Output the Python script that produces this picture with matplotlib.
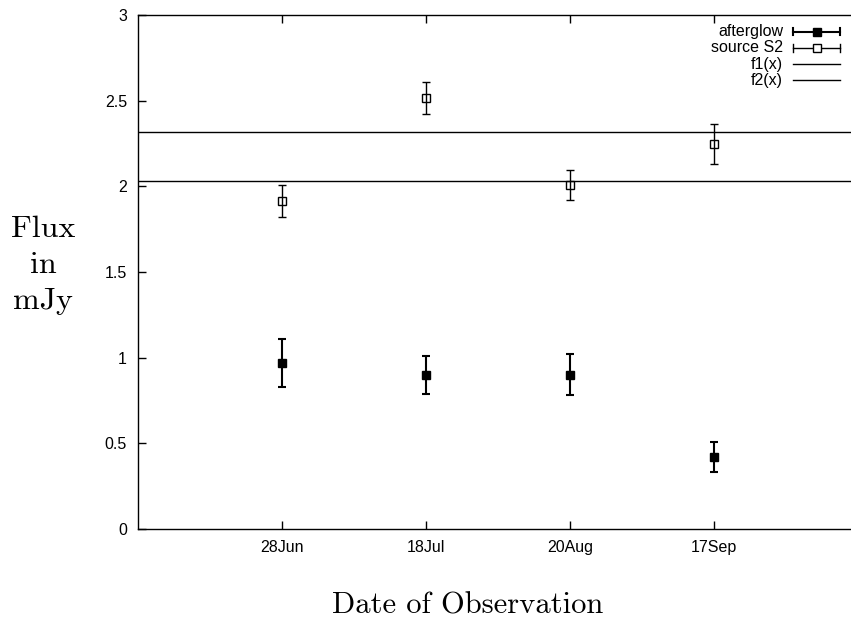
import matplotlib
matplotlib.use('Agg')
import matplotlib.pyplot as plt

dates = ['28Jun', '18Jul', '20Aug', '17Sep']
xpos = [1, 2, 3, 4]
afterglow = [0.97, 0.90, 0.90, 0.42]
afterglow_err = [0.14, 0.11, 0.12, 0.09]
source_s2 = [1.915, 2.515, 2.01, 2.245]
source_s2_err = [0.093, 0.095, 0.087, 0.117]
f1 = 2.315
f2 = 2.03

plt.rcParams['font.family'] = ['Liberation Sans', 'DejaVu Sans']

fig = plt.figure(figsize=(8.51, 6.23), dpi=100)
ax = fig.add_axes([138/851, 94/623, 720/851, 514/623])

ax.axhline(f1, color='black', lw=1)
ax.axhline(f2, color='black', lw=1)
ax.errorbar(xpos, afterglow, yerr=afterglow_err, fmt='s', color='black',
            ms=6, capsize=3, elinewidth=1.5, capthick=1.5)
ax.errorbar(xpos, source_s2, yerr=source_s2_err, fmt='s', color='black',
            mfc='none', ms=6, mew=1, capsize=3, elinewidth=1, capthick=1)

ax.set_xlim(0, 5)
ax.set_ylim(0, 3)
ax.set_xticks(xpos)
ax.set_xticklabels(dates)
ax.set_yticks([0, 0.5, 1, 1.5, 2, 2.5, 3])
ax.set_yticklabels(['0', '0.5', '1', '1.5', '2', '2.5', '3'])
ax.tick_params(direction='in', length=6, width=1, labelsize=11.5, color='black',
               top=True, right=False, pad=8)
ax.spines['right'].set_visible(False)
for s in ax.spines.values():
    s.set_linewidth(1)

# legend, gnuplot style: right-aligned text, sample to the right
tr = ax.transAxes
labels = ['afterglow', 'source S2', 'f1(x)', 'f2(x)']
rows = [31.5, 48, 64, 80]
for lab, yy in zip(labels, rows):
    yf = (529 - yy) / 514
    ax.text((783 - 138) / 720, yf, lab, transform=tr, ha='right', va='center', fontsize=11.5)
y0 = (529 - rows[0]) / 514
y1 = (529 - rows[1]) / 514
xs0, xs1, xm = (793 - 138) / 720, (840 - 138) / 720, (817 - 138) / 720
ax.plot([xs0, xs1], [y0, y0], color='black', lw=1.5, transform=tr, clip_on=False)
ax.plot([xs0, xs0], [y0 - 0.007, y0 + 0.007], color='black', lw=1.5, transform=tr, clip_on=False)
ax.plot([xs1, xs1], [y0 - 0.007, y0 + 0.007], color='black', lw=1.5, transform=tr, clip_on=False)
ax.plot([xm], [y0], 's', color='black', ms=6, transform=tr, clip_on=False)
ax.plot([xs0, xs1], [y1, y1], color='black', lw=1, transform=tr, clip_on=False)
ax.plot([xs0, xs0], [y1 - 0.007, y1 + 0.007], color='black', lw=1, transform=tr, clip_on=False)
ax.plot([xs1, xs1], [y1 - 0.007, y1 + 0.007], color='black', lw=1, transform=tr, clip_on=False)
ax.plot([xm], [y1], 's', color='black', mfc='white', ms=6, mew=1, transform=tr, clip_on=False)
for yy in rows[2:]:
    yf = (529 - yy) / 514
    ax.plot([xs0, xs1], [yf, yf], color='black', lw=1, transform=tr, clip_on=False)

fig.text(43/851, 1 - 265/623, 'Flux\nin\nmJy', family='cmr10', fontsize=23,
         ha='center', va='center', linespacing=1.4, multialignment='center')
fig.text(468/851, 1 - 606/623, 'Date of Observation', family='cmr10', fontsize=22,
         ha='center', va='center')

fig.savefig('out.png', dpi=100)
